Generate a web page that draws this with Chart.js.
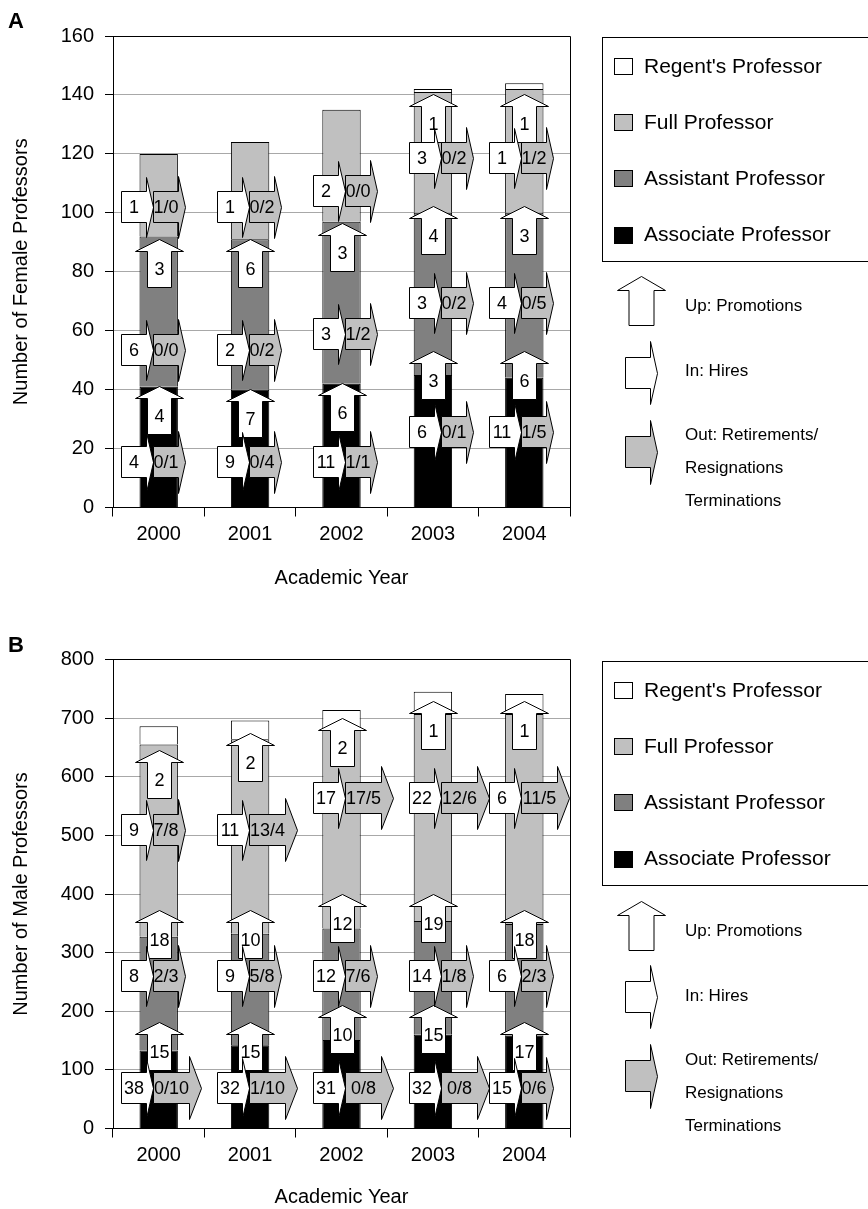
<!DOCTYPE html>
<html><head><meta charset="utf-8">
<script src="https://cdn.jsdelivr.net/npm/chart.js@4/dist/chart.umd.min.js"></script>
<style>
html,body{margin:0;padding:0;background:#fff;}
#wrap{position:relative;width:868px;height:1209px;overflow:hidden;}
canvas{position:absolute;left:0;}
#cA{top:0}
#cB{top:605px}
</style></head><body>
<div id="wrap"><canvas id="cA" width="868" height="605"></canvas><canvas id="cB" width="868" height="604"></canvas></div>
<script>
const FONT = '"Liberation Sans", Arial, Helvetica, sans-serif';
const years = ['2000', '2001', '2002', '2003', '2004'];
const legendLabels = ["Regent's Professor", "Full Professor", "Assistant Professor", "Associate Professor"];
const arrowLegend = ["Up: Promotions", "In: Hires", "Out: Retirements/", "Resignations", "Terminations"];

// ---------- Panel A: female ----------
const femAssociate = [41, 40, 42, 45, 44];
const femAssistant = [51, 51, 55, 55, 56];
const femFull      = [28, 33, 38, 41, 42];
const femRegent    = [0, 0, 0, 1, 2];
// promotions (up arrows): value where the arrow tip sits, and count
const femUpRegentAt = [null, null, null, 140, 140];
const femUpRegentN  = [null, null, null, '1', '1'];
const femUpFullAt   = [91, 91, 96.5, 102, 102];
const femUpFullN    = ['3', '6', '3', '4', '3'];
const femUpAsstAt   = [41, 40, 42, 53, 53];
const femUpAsstN    = ['4', '7', '6', '3', '6'];
// hires (in) / out (retirements-resignations/terminations), at a value
const femFullFlowAt = [102, 102, 107.5, 118.5, 118.5];
const femFullIn     = ['1', '1', '2', '3', '1'];
const femFullOut    = ['1/0', '0/2', '0/0', '0/2', '1/2'];
const femAsstFlowAt = [53.4, 53.4, 58.8, 69.5, 69.5];
const femAsstIn     = ['6', '2', '3', '3', '4'];
const femAsstOut    = ['0/0', '0/2', '1/2', '0/2', '0/5'];
const femAssocFlowAt = [15.3, 15.3, 15.3, 25.7, 25.7];
const femAssocIn     = ['4', '9', '11', '6', '11'];
const femAssocOut    = ['0/1', '0/4', '1/1', '0/1', '1/5'];

// ---------- Panel B: male ----------
const maleAssociate = [133, 142, 151, 160, 158];
const maleAssistant = [194, 190, 190, 194, 191];
const maleFull      = [328, 332, 339, 353, 358];
const maleRegent    = [31, 32, 34, 38, 34];
const maleUpRegentAt = [645, 673, 700, 728, 728];
const maleUpRegentN  = ['2', '2', '2', '1', '1'];
const maleUpFullAt   = [372, 372, 400, 400, 372];
const maleUpFullN    = ['18', '10', '12', '19', '18'];
const maleUpAsstAt   = [180, 180, 209, 209, 180];
const maleUpAsstN    = ['15', '15', '10', '15', '17'];
const maleFullFlowAt = [509, 509, 563, 563, 563];
const maleFullIn     = ['9', '11', '17', '22', '6'];
const maleFullOut    = ['7/8', '13/4', '17/5', '12/6', '11/5'];
const maleAsstFlowAt = [260, 260, 260, 260, 260];
const maleAsstIn     = ['8', '9', '12', '14', '6'];
const maleAsstOut    = ['2/3', '5/8', '7/6', '1/8', '2/3'];
const maleAssocFlowAt = [68.5, 68.5, 68.5, 68.5, 68.5];
const maleAssocIn     = ['38', '32', '31', '32', '15'];
const maleAssocOut    = ['0/10', '1/10', '0/8', '0/8', '0/6'];

// ---------- styles / layout (not data) ----------
const COLORS = { regent: '#ffffff', full: '#c0c0c0', asst: '#808080', assoc: '#000000', out: '#c0c0c0' };
const GROUP_SHIFT = [-37, -33, -28, -23, -34.5];   // px offset of in/out arrow group from category centre
const WIDE_NONE = [0, 0, 0, 0, 0];
const MALE_TOP_WIDE = [0, 1, 1, 1, 1];
const MALE_LOW_WIDE = [1, 1, 1, 1, 0];
const ARROW_FONT = '18px ' + FONT;

function r5(v) { return Math.round(v - 0.5) + 0.5; }

function drawUp(ctx, cx, tip, label, o) {
  o = o || {};
  const H = o.H || 48, hh = o.hh || 12, hw = o.hw || 24, bw = o.bw || 12;
  cx = Math.round(cx) + 0.5; tip = r5(tip);
  ctx.beginPath();
  ctx.moveTo(cx, tip);
  ctx.lineTo(cx + hw, tip + hh);
  ctx.lineTo(cx + bw, tip + hh);
  ctx.lineTo(cx + bw, tip + H);
  ctx.lineTo(cx - bw, tip + H);
  ctx.lineTo(cx - bw, tip + hh);
  ctx.lineTo(cx - hw, tip + hh);
  ctx.closePath();
  ctx.fillStyle = '#fff'; ctx.fill();
  ctx.strokeStyle = '#000'; ctx.lineWidth = 1; ctx.stroke();
  if (label) {
    ctx.fillStyle = '#000';
    ctx.font = ARROW_FONT; ctx.textAlign = 'center'; ctx.textBaseline = 'middle';
    ctx.fillText(label, cx, tip + hh + (H - hh) / 2 + 1);
  }
}

function drawRight(ctx, x, cy, bodyW, headL, bodyH, headH, fill, label) {
  x = r5(x); cy = Math.round(cy);
  const bt = cy - bodyH / 2, bb = cy + bodyH / 2, ht = cy - headH / 2, hb = cy + headH / 2;
  ctx.beginPath();
  ctx.moveTo(x, r5(bt));
  ctx.lineTo(x + bodyW, r5(bt));
  ctx.lineTo(x + bodyW, r5(ht));
  ctx.lineTo(x + bodyW + headL, cy + 0.5);
  ctx.lineTo(x + bodyW, r5(hb));
  ctx.lineTo(x + bodyW, r5(bb));
  ctx.lineTo(x, r5(bb));
  ctx.closePath();
  ctx.fillStyle = fill; ctx.fill();
  ctx.strokeStyle = '#000'; ctx.lineWidth = 1; ctx.stroke();
  if (label) {
    ctx.fillStyle = '#000';
    ctx.font = ARROW_FONT; ctx.textAlign = 'center'; ctx.textBaseline = 'middle';
    ctx.fillText(label, x + bodyW / 2, cy + 1);
  }
}

function makePanelPlugin(cfg) {
  return {
    id: 'panel' + cfg.letter,
    beforeDatasetsDraw(chart) {
      const { ctx, chartArea: a } = chart;
      ctx.save();
      ctx.strokeStyle = '#000'; ctx.lineWidth = 1;
      ctx.beginPath();
      ctx.moveTo(r5(a.left), r5(a.top));
      ctx.lineTo(r5(a.right), r5(a.top));
      ctx.lineTo(r5(a.right), r5(a.bottom));
      ctx.stroke();
      ctx.restore();
    },
    afterDatasetsDraw(chart) {
      const ctx = chart.ctx, xs = chart.scales.x, ys = chart.scales.y;
      ctx.save();
      cfg.ups.forEach(row => row.at.forEach((v, i) => {
        if (v == null) return;
        drawUp(ctx, xs.getPixelForValue(i), ys.getPixelForValue(v), row.n[i]);
      }));
      cfg.flows.forEach(row => row.at.forEach((v, i) => {
        const x0 = xs.getPixelForValue(i) + GROUP_SHIFT[i];
        const cy = ys.getPixelForValue(v);
        drawRight(ctx, x0, cy, 25, 7, 31, 60, '#fff', row.inN[i]);
        const wide = row.wide[i];
        drawRight(ctx, x0 + 32, cy, wide ? 36 : 25, wide ? 12 : 7, 31, wide ? 63 : 62, COLORS.out, row.outN[i]);
      }));
      ctx.restore();
    },
    afterDraw(chart) {
      const ctx = chart.ctx;
      const a = chart.chartArea;
      ctx.save();
      // panel letter
      ctx.fillStyle = '#000';
      ctx.font = 'bold 22px ' + FONT; ctx.textAlign = 'left'; ctx.textBaseline = 'middle';
      ctx.fillText(cfg.letter, 8, a.top - 14);
      // legend box
      const bx = 602, bt = cfg.boxTop, bb = cfg.boxBottom;
      ctx.strokeStyle = '#000'; ctx.lineWidth = 1;
      ctx.strokeRect(r5(bx), r5(bt), 300, Math.round(bb - bt));
      const fills = [COLORS.regent, COLORS.full, COLORS.asst, COLORS.assoc];
      const offs = [29, 85, 141, 197.5];
      ctx.font = '21px ' + FONT; ctx.textBaseline = 'middle';
      legendLabels.forEach((t, k) => {
        const cy = bt + offs[k];
        ctx.fillStyle = fills[k];
        ctx.fillRect(614, Math.round(cy - 8), 19, 17);
        ctx.strokeRect(614.5, Math.round(cy - 8) + 0.5, 18, 16);
        ctx.fillStyle = '#000';
        ctx.fillText(t, 644, cy + 1);
      });
      // arrow legend
      drawUp(ctx, 641, bb + 16, null, { H: 49, hh: 14, hw: 24, bw: 12.5 });
      drawRight(ctx, 625, bb + 112, 25, 7, 31, 63, '#fff', null);
      drawRight(ctx, 625, bb + 191, 25, 7, 31, 64, COLORS.out, null);
      ctx.fillStyle = '#000';
      ctx.font = '17px ' + FONT; ctx.textAlign = 'left'; ctx.textBaseline = 'middle';
      ctx.fillText(arrowLegend[0], 685, bb + 46);
      ctx.fillText(arrowLegend[1], 685, bb + 111);
      ctx.fillText(arrowLegend[2], 685, bb + 175);
      ctx.fillText(arrowLegend[3], 685, bb + 208);
      ctx.fillText(arrowLegend[4], 685, bb + 241);
      ctx.restore();
    }
  };
}

function buildChart(canvasId, d) {
  return new Chart(document.getElementById(canvasId), {
    type: 'bar',
    data: {
      labels: years,
      datasets: [
        { label: legendLabels[3], data: d.assoc, backgroundColor: COLORS.assoc },
        { label: legendLabels[2], data: d.asst, backgroundColor: COLORS.asst },
        { label: legendLabels[1], data: d.full, backgroundColor: COLORS.full },
        { label: legendLabels[0], data: d.regent, backgroundColor: COLORS.regent }
      ].map(ds => Object.assign(ds, { borderColor: '#000', borderWidth: 1, barPercentage: 0.42, categoryPercentage: 1 }))
    },
    options: {
      responsive: false, animation: false, devicePixelRatio: 1,
      layout: { padding: { left: 0, top: d.top, right: 298, bottom: 0 } },
      plugins: { legend: { display: false }, tooltip: { enabled: false } },
      scales: {
        x: {
          stacked: true,
          ticks: { font: { size: 20, family: FONT }, color: '#000', padding: 6 },
          grid: { drawOnChartArea: false, tickColor: '#000', tickLength: 9, lineWidth: 1 },
          border: { color: '#000', width: 1 },
          title: { display: true, text: 'Academic Year', color: '#000', font: { size: 20, family: FONT }, padding: { top: 0, bottom: d.xTitlePad } },
          afterFit(s) { s.height = d.xh; }
        },
        y: {
          stacked: true, min: 0, max: d.max,
          ticks: { stepSize: d.step, font: { size: 20, family: FONT }, color: '#000', padding: 11 },
          grid: { color: '#a8a8a8', lineWidth: 1, tickColor: '#000', tickLength: 8 },
          border: { color: '#000', width: 1 },
          title: { display: true, text: d.yTitle, color: '#000', font: { size: 20, family: FONT }, padding: { top: 9, bottom: 0 } },
          afterFit(s) { s.width = 113; }
        }
      }
    },
    plugins: [makePanelPlugin(d.panel)]
  });
}

buildChart('cA', {
  assoc: femAssociate, asst: femAssistant, full: femFull, regent: femRegent,
  top: 36, xh: 97.5, xTitlePad: 14.5, max: 160, step: 20, yTitle: 'Number of Female Professors',
  panel: {
    letter: 'A', boxTop: 37, boxBottom: 260.5,
    ups: [
      { at: femUpRegentAt, n: femUpRegentN },
      { at: femUpFullAt, n: femUpFullN },
      { at: femUpAsstAt, n: femUpAsstN }
    ],
    flows: [
      { at: femFullFlowAt, inN: femFullIn, outN: femFullOut, wide: WIDE_NONE },
      { at: femAsstFlowAt, inN: femAsstIn, outN: femAsstOut, wide: WIDE_NONE },
      { at: femAssocFlowAt, inN: femAssocIn, outN: femAssocOut, wide: WIDE_NONE }
    ]
  }
});

buildChart('cB', {
  assoc: maleAssociate, asst: maleAssistant, full: maleFull, regent: maleRegent,
  top: 54.5, xh: 80.5, xTitlePad: 0, max: 800, step: 100, yTitle: 'Number of Male Professors',
  panel: {
    letter: 'B', boxTop: 56, boxBottom: 280,
    ups: [
      { at: maleUpRegentAt, n: maleUpRegentN },
      { at: maleUpFullAt, n: maleUpFullN },
      { at: maleUpAsstAt, n: maleUpAsstN }
    ],
    flows: [
      { at: maleFullFlowAt, inN: maleFullIn, outN: maleFullOut, wide: MALE_TOP_WIDE },
      { at: maleAsstFlowAt, inN: maleAsstIn, outN: maleAsstOut, wide: WIDE_NONE },
      { at: maleAssocFlowAt, inN: maleAssocIn, outN: maleAssocOut, wide: MALE_LOW_WIDE }
    ]
  }
});
</script>
</body></html>
